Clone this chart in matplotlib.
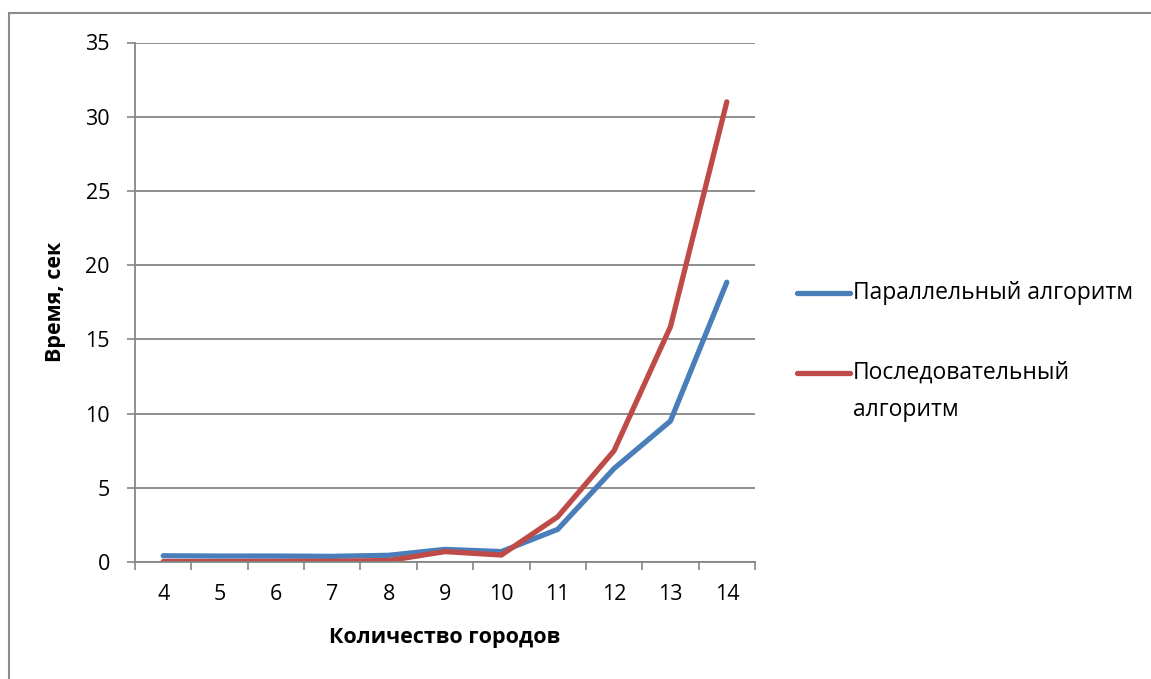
import numpy as np
import matplotlib.pyplot as plt
from matplotlib.patches import Rectangle
from matplotlib.lines import Line2D

# данные
cities = [4, 5, 6, 7, 8, 9, 10, 11, 12, 13, 14]
parallel = [0.42, 0.40, 0.40, 0.38, 0.45, 0.85, 0.70, 2.2, 6.3, 9.5, 18.85]
sequential = [0.03, 0.03, 0.04, 0.05, 0.10, 0.70, 0.47, 3.05, 7.5, 15.85, 31.0]
labels = ['Параллельный алгоритм', 'Последовательный\nалгоритм']
colors = ['#4A7EBB', '#BE4B48']

plt.rcParams['font.family'] = ['Open Sans', 'DejaVu Sans']

W, H = 1151, 679
fig = plt.figure(figsize=(W / 100, H / 100), dpi=100)
ax = fig.add_axes([135 / W, 117 / H, 620 / W, 519.5 / H])

gray = '#868686'
x = np.arange(len(cities))
for y, c in zip([parallel, sequential], colors):
    ax.plot(x, y, color=c, lw=3.8, solid_capstyle='round')

ax.set_xlim(-0.5, len(cities) - 0.5)
ax.set_ylim(0, 35)
ax.set_yticks(range(0, 36, 5))
ax.set_xticks(x)
ax.set_xticklabels([str(c) for c in cities])
ax.set_xticks(np.arange(-0.5, len(cities)), minor=True)
ax.tick_params(axis='x', which='major', length=0, pad=16, labelsize=15.5)
ax.tick_params(axis='x', which='minor', length=6, width=1.2, color=gray)
ax.tick_params(axis='y', length=6, width=1.2, color=gray, pad=12, labelsize=15.5)

ax.grid(axis='y', color=gray, lw=1.3)
ax.set_axisbelow(True)
for s in ['top', 'right']:
    ax.spines[s].set_visible(False)
for s in ['left', 'bottom']:
    ax.spines[s].set_color(gray)
    ax.spines[s].set_linewidth(1.3)

ax.set_xlabel('Количество городов', fontsize=15.5, fontweight='bold', labelpad=16)
ax.set_ylabel('Время, сек', fontsize=15.5, fontweight='bold', labelpad=14)

# легенда (как в Excel: линия на уровне первой строки)
leg_y = [293, 373]
for lab, c, yy in zip(labels, colors, leg_y):
    fy = 1 - yy / H
    fig.add_artist(Line2D([797 / W, 850 / W], [fy, fy], transform=fig.transFigure,
                          color=c, lw=3.8, solid_capstyle='round'))
    for k, line in enumerate(lab.split('\n')):
        fig.text(853 / W, 1 - (yy + 37 * k) / H, line, fontsize=16.5, va='center', ha='left')

# рамка диаграммы
fig.add_artist(Rectangle((9 / W, -0.1), 1.2, 0.1 + 666 / H, transform=fig.transFigure,
                         fill=False, edgecolor='#8c8c8c', lw=1.5))

fig.savefig('out.png', dpi=100)
